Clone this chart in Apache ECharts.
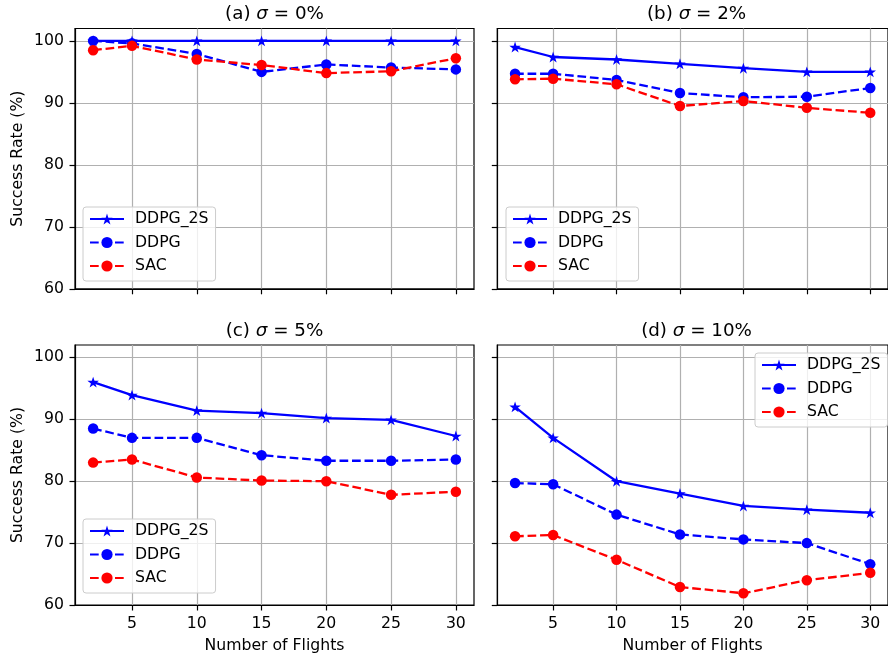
<!DOCTYPE html>
<html>
<head>
<meta charset="utf-8">
<script src="https://cdn.jsdelivr.net/npm/echarts@6/dist/echarts.min.js"></script>
<style>html,body{margin:0;padding:0;background:#fff;}#c{width:888px;height:658px;}</style>
</head>
<body>
<div id="c"></div>
<script>
// ---- data ----
const flights = [2, 5, 10, 15, 20, 25, 30];
const xTicks = [5, 10, 15, 20, 25, 30];
const yTicks = [60, 70, 80, 90, 100];
const seriesNames = ['DDPG_2S', 'DDPG', 'SAC'];
const panelLabels = ['(a) ', '(b) ', '(c) ', '(d) '];
const sigmaLabels = ['0%', '2%', '5%', '10%'];

const a_ddpg2s = [100, 100, 100, 100, 100, 100, 100];
const a_ddpg   = [100, 99.6, 97.9, 95.0, 96.2, 95.7, 95.4];
const a_sac    = [98.5, 99.2, 97.0, 96.1, 94.8, 95.1, 97.2];

const b_ddpg2s = [99.0, 97.4, 97.0, 96.3, 95.6, 95.0, 95.0];
const b_ddpg   = [94.7, 94.7, 93.7, 91.6, 90.9, 91.0, 92.4];
const b_sac    = [93.8, 93.9, 93.0, 89.5, 90.3, 89.2, 88.4];

const c_ddpg2s = [96.0, 93.9, 91.4, 91.0, 90.2, 89.9, 87.3];
const c_ddpg   = [88.5, 87.0, 87.0, 84.2, 83.3, 83.3, 83.5];
const c_sac    = [83.0, 83.5, 80.6, 80.1, 80.0, 77.8, 78.3];

const d_ddpg2s = [92.0, 87.0, 80.0, 78.0, 76.0, 75.4, 74.9];
const d_ddpg   = [79.7, 79.5, 74.6, 71.4, 70.6, 70.0, 66.6];
const d_sac    = [71.1, 71.3, 67.3, 62.9, 61.9, 64.0, 65.2];

const panelData = [
  [a_ddpg2s, a_ddpg, a_sac],
  [b_ddpg2s, b_ddpg, b_sac],
  [c_ddpg2s, c_ddpg, c_sac],
  [d_ddpg2s, d_ddpg, d_sac]
];

// ---- layout / style ----
const FONT = 'DejaVu Sans';
const FS = 15.7;
const grids = [
  {left: 75, top: 28.5, width: 399, height: 260.3},
  {left: 497.3, top: 28.5, width: 398.5, height: 260.3},
  {left: 75, top: 345, width: 399, height: 260},
  {left: 497.3, top: 345, width: 398.5, height: 260}
];
const legendPos = [
  {left: 83, top: 207},
  {left: 506, top: 207},
  {left: 83, top: 519},
  {left: 755, top: 353}
];
const STAR = 'path://M0,-10L2.245,-3.09L9.511,-3.09L3.633,1.18L5.878,8.09L0,3.82L-5.878,8.09L-3.633,1.18L-9.511,-3.09L-2.245,-3.09Z';
const DASH = [8.7, 3.8];
const styles = [
  {color: '#0000ff', symbol: STAR, size: 11.5, type: 'solid'},
  {color: '#0000ff', symbol: 'circle', size: 10.5, type: DASH},
  {color: '#ff0000', symbol: 'circle', size: 10.5, type: DASH}
];

const xAxes = [], yAxes = [], series = [], legends = [], graphics = [];
grids.forEach((g, i) => {
  const bottom = i >= 2, left = i % 2 === 0;
  xAxes.push({
    type: 'value', gridIndex: i, min: 0.6, max: 31.4,
    axisLine: {show: true, onZero: false, lineStyle: {color: '#000', width: 1.2}},
    axisTick: {show: true, length: 5.5, customValues: xTicks, lineStyle: {color: '#000', width: 1.2}},
    axisLabel: {show: bottom, customValues: xTicks, margin: 10.5, fontSize: FS, color: '#000', fontFamily: FONT},
    splitLine: {show: true, lineStyle: {color: '#b0b0b0', width: 1.2}},
    name: bottom ? 'Number of Flights' : '',
    nameLocation: 'middle', nameGap: 33,
    nameTextStyle: {fontSize: FS, color: '#000', fontFamily: FONT}
  });
  yAxes.push({
    type: 'value', gridIndex: i, min: 60, max: 102,
    axisLine: {show: true, lineStyle: {color: '#000', width: 1.2}},
    axisTick: {show: true, length: 5.5, customValues: yTicks, lineStyle: {color: '#000', width: 1.2}},
    axisLabel: {show: left, customValues: yTicks, margin: 11, fontSize: FS, color: '#000', fontFamily: FONT},
    splitLine: {show: true, lineStyle: {color: '#b0b0b0', width: 1.2}},
    name: left ? 'Success Rate (%)' : '',
    nameLocation: 'middle', nameGap: 49, nameRotate: 90,
    nameTextStyle: {fontSize: FS, color: '#000', fontFamily: FONT}
  });
  seriesNames.forEach((nm, k) => {
    const st = styles[k];
    series.push({
      type: 'line', name: nm, xAxisIndex: i, yAxisIndex: i,
      data: flights.map((f, j) => [f, panelData[i][k][j]]),
      symbol: st.symbol, symbolSize: st.size, symbolKeepAspect: true,
      showAllSymbol: true,
      lineStyle: {color: st.color, width: 2.3, type: st.type},
      itemStyle: {color: st.color, borderWidth: 0},
      z: 2 + k
    });
  });
  legends.push(Object.assign({
    data: seriesNames, orient: 'vertical',
    itemWidth: 34, itemHeight: 14, itemGap: 7.5,
    padding: [4, 7, 7, 6],
    backgroundColor: 'rgba(255,255,255,0.8)', borderColor: '#cccccc', borderWidth: 1, borderRadius: 3,
    textStyle: {fontSize: FS, lineHeight: 16, color: '#000', fontFamily: FONT, padding: [0, 0, 0, 6]},
    selectedMode: false
  }, legendPos[i]));
  graphics.push({
    type: 'text',
    x: g.left + g.width / 2,
    y: g.top - 14,
    style: {
      text: '{n|' + panelLabels[i] + '}{s|σ}{n| = ' + sigmaLabels[i] + '}',
      rich: {
        n: {fontSize: 18.3, fontFamily: FONT, fill: '#000'},
        s: {fontSize: 18.3, fontFamily: FONT, fontStyle: 'italic', fill: '#000'}
      },
      align: 'center', verticalAlign: 'middle'
    }
  });
  grids[i] = Object.assign({show: true, borderColor: '#000', borderWidth: 1.2, backgroundColor: '#fff', containLabel: false}, g);
});

const chart = echarts.init(document.getElementById('c'), null, {renderer: 'canvas'});
chart.setOption({
  animation: false,
  backgroundColor: '#fff',
  grid: grids,
  xAxis: xAxes,
  yAxis: yAxes,
  series: series,
  legend: legends,
  graphic: graphics
});
</script>
</body>
</html>
